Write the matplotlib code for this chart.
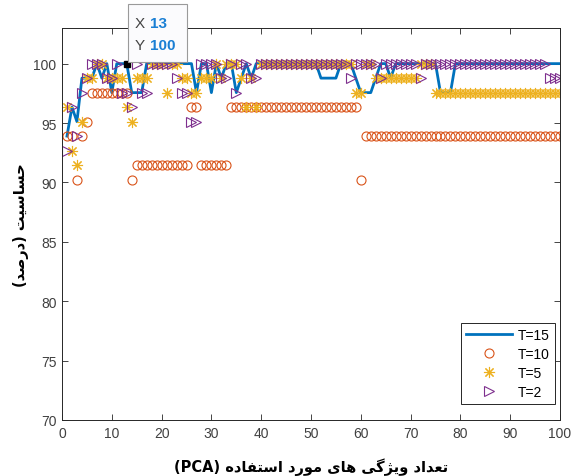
import matplotlib
matplotlib.use("Agg")
import matplotlib.pyplot as plt
from matplotlib.patches import Rectangle
from matplotlib.transforms import IdentityTransform

# Number of PCA features used
n_features = list(range(1, 101))

# Sensitivity (%) per threshold
t15 = [93.90, 96.34, 95.12, 98.78, 98.78, 98.78, 100, 98.78, 100, 97.56,
       100, 100, 100, 97.56, 97.56, 97.56, 100, 100, 100, 100,
       100, 100, 100, 100, 100, 100, 97.56, 100, 100, 97.56,
       100, 98.78, 100, 100, 97.56, 98.78, 100, 98.78, 100, 100,
       100, 100, 100, 100, 100, 100, 100, 100, 100, 100,
       100, 98.78, 98.78, 98.78, 98.78, 100, 100, 100, 98.78, 97.56,
       97.56, 97.56, 98.78, 100, 100, 98.78, 100, 100, 100, 100,
       100, 100, 100, 100, 100, 97.56, 97.56, 97.56, 100, 100,
       100, 100, 100, 100, 100, 100, 100, 100, 100, 100,
       100, 100, 100, 100, 100, 100, 100, 100, 100, 100]

t10 = [93.90, 93.90, 90.24, 93.90, 95.12, 97.56, 97.56, 97.56, 97.56, 97.56,
       97.56, 97.56, 97.56, 90.24, 91.46, 91.46, 91.46, 91.46, 91.46, 91.46,
       91.46, 91.46, 91.46, 91.46, 91.46, 96.34, 96.34, 91.46, 91.46, 91.46,
       91.46, 91.46, 91.46, 96.34, 96.34, 96.34, 96.34, 96.34, 96.34, 96.34,
       96.34, 96.34, 96.34, 96.34, 96.34, 96.34, 96.34, 96.34, 96.34, 96.34,
       96.34, 96.34, 96.34, 96.34, 96.34, 96.34, 96.34, 96.34, 96.34, 90.24,
       93.90, 93.90, 93.90, 93.90, 93.90, 93.90, 93.90, 93.90, 93.90, 93.90,
       93.90, 93.90, 93.90, 93.90, 93.90, 93.90, 93.90, 93.90, 93.90, 93.90,
       93.90, 93.90, 93.90, 93.90, 93.90, 93.90, 93.90, 93.90, 93.90, 93.90,
       93.90, 93.90, 93.90, 93.90, 93.90, 93.90, 93.90, 93.90, 93.90, 93.90]

t5 = [96.34, 92.68, 91.46, 95.12, 98.78, 98.78, 100, 100, 98.78, 98.78,
      98.78, 98.78, 96.34, 95.12, 98.78, 98.78, 98.78, 100, 100, 100,
      97.56, 100, 100, 98.78, 98.78, 97.56, 97.56, 98.78, 98.78, 98.78,
      100, 98.78, 100, 100, 100, 98.78, 96.34, 98.78, 96.34, 100,
      100, 100, 100, 100, 100, 100, 100, 100, 100, 100,
      100, 100, 100, 100, 100, 100, 100, 100, 97.56, 97.56,
      100, 100, 98.78, 98.78, 98.78, 98.78, 98.78, 98.78, 98.78, 98.78,
      98.78, 100, 100, 100, 97.56, 97.56, 97.56, 97.56, 97.56, 97.56,
      97.56, 97.56, 97.56, 97.56, 97.56, 97.56, 97.56, 97.56, 97.56, 97.56,
      97.56, 97.56, 97.56, 97.56, 97.56, 97.56, 97.56, 97.56, 97.56, 97.56]

t2 = [92.68, 96.34, 93.90, 97.56, 98.78, 100, 100, 100, 98.78, 98.78,
      100, 97.56, 97.56, 96.34, 100, 97.56, 97.56, 100, 100, 100,
      100, 100, 98.78, 97.56, 97.56, 95.12, 95.12, 100, 100, 100,
      100, 98.78, 98.78, 100, 97.56, 100, 100, 98.78, 98.78, 100,
      100, 100, 100, 100, 100, 100, 100, 100, 100, 100,
      100, 100, 100, 100, 100, 100, 100, 98.78, 100, 100,
      100, 100, 100, 98.78, 100, 100, 100, 100, 100, 100,
      100, 98.78, 100, 100, 100, 100, 100, 100, 100, 100,
      100, 100, 100, 100, 100, 100, 100, 100, 100, 100,
      100, 100, 100, 100, 100, 100, 100, 98.78, 98.78, 98.78]

series_labels = ["T=15", "T=10", "T=5", "T=2"]
x_ticks = [0, 10, 20, 30, 40, 50, 60, 70, 80, 90, 100]
y_ticks = [70, 75, 80, 85, 90, 95, 100]
tip_x, tip_y = 13, 100

xlabel_fa = "تعداد ویژگی های مورد استفاده"
ylabel_fa = "حساسیت (درصد)"

# matplotlib has no Arabic shaping, so pick presentation forms by hand
# (isolated, final, initial, medial)
FORMS = {
    "ا": ("\uFE8D", "\uFE8E", None, None),
    "ت": ("\uFE95", "\uFE96", "\uFE97", "\uFE98"),
    "ح": ("\uFEA1", "\uFEA2", "\uFEA3", "\uFEA4"),
    "د": ("\uFEA9", "\uFEAA", None, None),
    "ر": ("\uFEAD", "\uFEAE", None, None),
    "ژ": ("\uFB8A", "\uFB8B", None, None),
    "س": ("\uFEB1", "\uFEB2", "\uFEB3", "\uFEB4"),
    "ص": ("\uFEB9", "\uFEBA", "\uFEBB", "\uFEBC"),
    "ع": ("\uFEC9", "\uFECA", "\uFECB", "\uFECC"),
    "ف": ("\uFED1", "\uFED2", "\uFED3", "\uFED4"),
    "گ": ("\uFB92", "\uFB93", "\uFB94", "\uFB95"),
    "م": ("\uFEE1", "\uFEE2", "\uFEE3", "\uFEE4"),
    "ه": ("\uFEE9", "\uFEEA", "\uFEEB", "\uFEEC"),
    "و": ("\uFEED", "\uFEEE", None, None),
    "ی": ("\uFBFC", "\uFBFD", "\uFBFE", "\uFBFF"),
}


def rtl(text):
    out = []
    for i, ch in enumerate(text):
        if ch not in FORMS:
            out.append(ch)
            continue
        prev = text[i - 1] if i > 0 else ""
        nxt = text[i + 1] if i + 1 < len(text) else ""
        join_prev = prev in FORMS and FORMS[prev][2] is not None
        join_next = FORMS[ch][2] is not None and nxt in FORMS
        iso, fin, ini, med = FORMS[ch]
        if join_prev and join_next:
            out.append(med)
        elif join_prev:
            out.append(fin)
        elif join_next:
            out.append(ini)
        else:
            out.append(iso)
    swap = {"(": ")", ")": "("}
    return "".join(swap.get(c, c) for c in reversed(out))


plt.rcParams["font.family"] = ["Liberation Sans", "DejaVu Sans"]
axis_color = "#262626"

fig = plt.figure(figsize=(5.71, 4.77), dpi=100)
ax = fig.add_axes([62 / 571, 56 / 477, 498 / 571, 392 / 477])

ax.plot(n_features, t15, color="#0072BD", linewidth=2, label=series_labels[0])
ax.plot(n_features, t10, linestyle="none", marker="o", markersize=6.5,
        markerfacecolor="none", markeredgecolor="#D95319",
        markeredgewidth=0.8, label=series_labels[1])
# MATLAB-style '*' marker: eight-armed asterisk
ax.plot(n_features, t5, linestyle="none", marker=(8, 2, 0), markersize=8,
        markerfacecolor="none", markeredgecolor="#EDB120",
        markeredgewidth=0.8, label=series_labels[2])
ax.plot(n_features, t2, linestyle="none", marker=">", markersize=6.5,
        markerfacecolor="none", markeredgecolor="#7E2F8E",
        markeredgewidth=0.8, label=series_labels[3])

# data tip marker
ax.plot([tip_x], [tip_y], marker="s", markersize=4.5, color="black",
        linestyle="none", zorder=5)

ax.set_xlim(0, 100)
ax.set_ylim(70, 103)
ax.set_xticks(x_ticks)
ax.set_yticks(y_ticks)
ax.tick_params(direction="in", top=True, right=True, length=4,
               width=0.6, colors=axis_color, labelsize=10, pad=4)
ax.tick_params(labelcolor="#404040")
for sp in ax.spines.values():
    sp.set_color(axis_color)
    sp.set_linewidth(0.7)

ax.set_xlabel("(PCA) " + rtl(xlabel_fa), fontsize=10.5, fontweight="bold",
              family=["DejaVu Sans"], color="black", labelpad=13)
ax.set_ylabel(rtl(ylabel_fa), fontsize=10.5, fontweight="bold",
              family=["DejaVu Sans"], color="black", labelpad=3)

leg = ax.legend(loc="lower right", bbox_to_anchor=(0.99, 0.04),
                borderaxespad=0, fancybox=False, fontsize=10,
                handlelength=3.3, labelspacing=0.35, framealpha=1,
                edgecolor=axis_color, handletextpad=0.4)
leg.get_frame().set_linewidth(0.7)

# data tip box, anchored to the data point in pixel space
px, py = ax.transData.transform((tip_x, tip_y))
ident = IdentityTransform()
box = Rectangle((px + 1, py + 2), 59, 58, transform=ident,
                facecolor="#fbfbfd", edgecolor="#9a9a9a", linewidth=0.8,
                zorder=10)
fig.add_artist(box)
fig.text(px + 8, py + 41, "X", transform=ident, fontsize=11,
         color="#444444", va="center", zorder=11)
fig.text(px + 23, py + 41, "13", transform=ident, fontsize=11,
         color="#1a7fd4", fontweight="bold", va="center", zorder=11)
fig.text(px + 8, py + 19, "Y", transform=ident, fontsize=11,
         color="#444444", va="center", zorder=11)
fig.text(px + 23, py + 19, "100", transform=ident, fontsize=11,
         color="#1a7fd4", fontweight="bold", va="center", zorder=11)

fig.savefig("out.png", dpi=100)
